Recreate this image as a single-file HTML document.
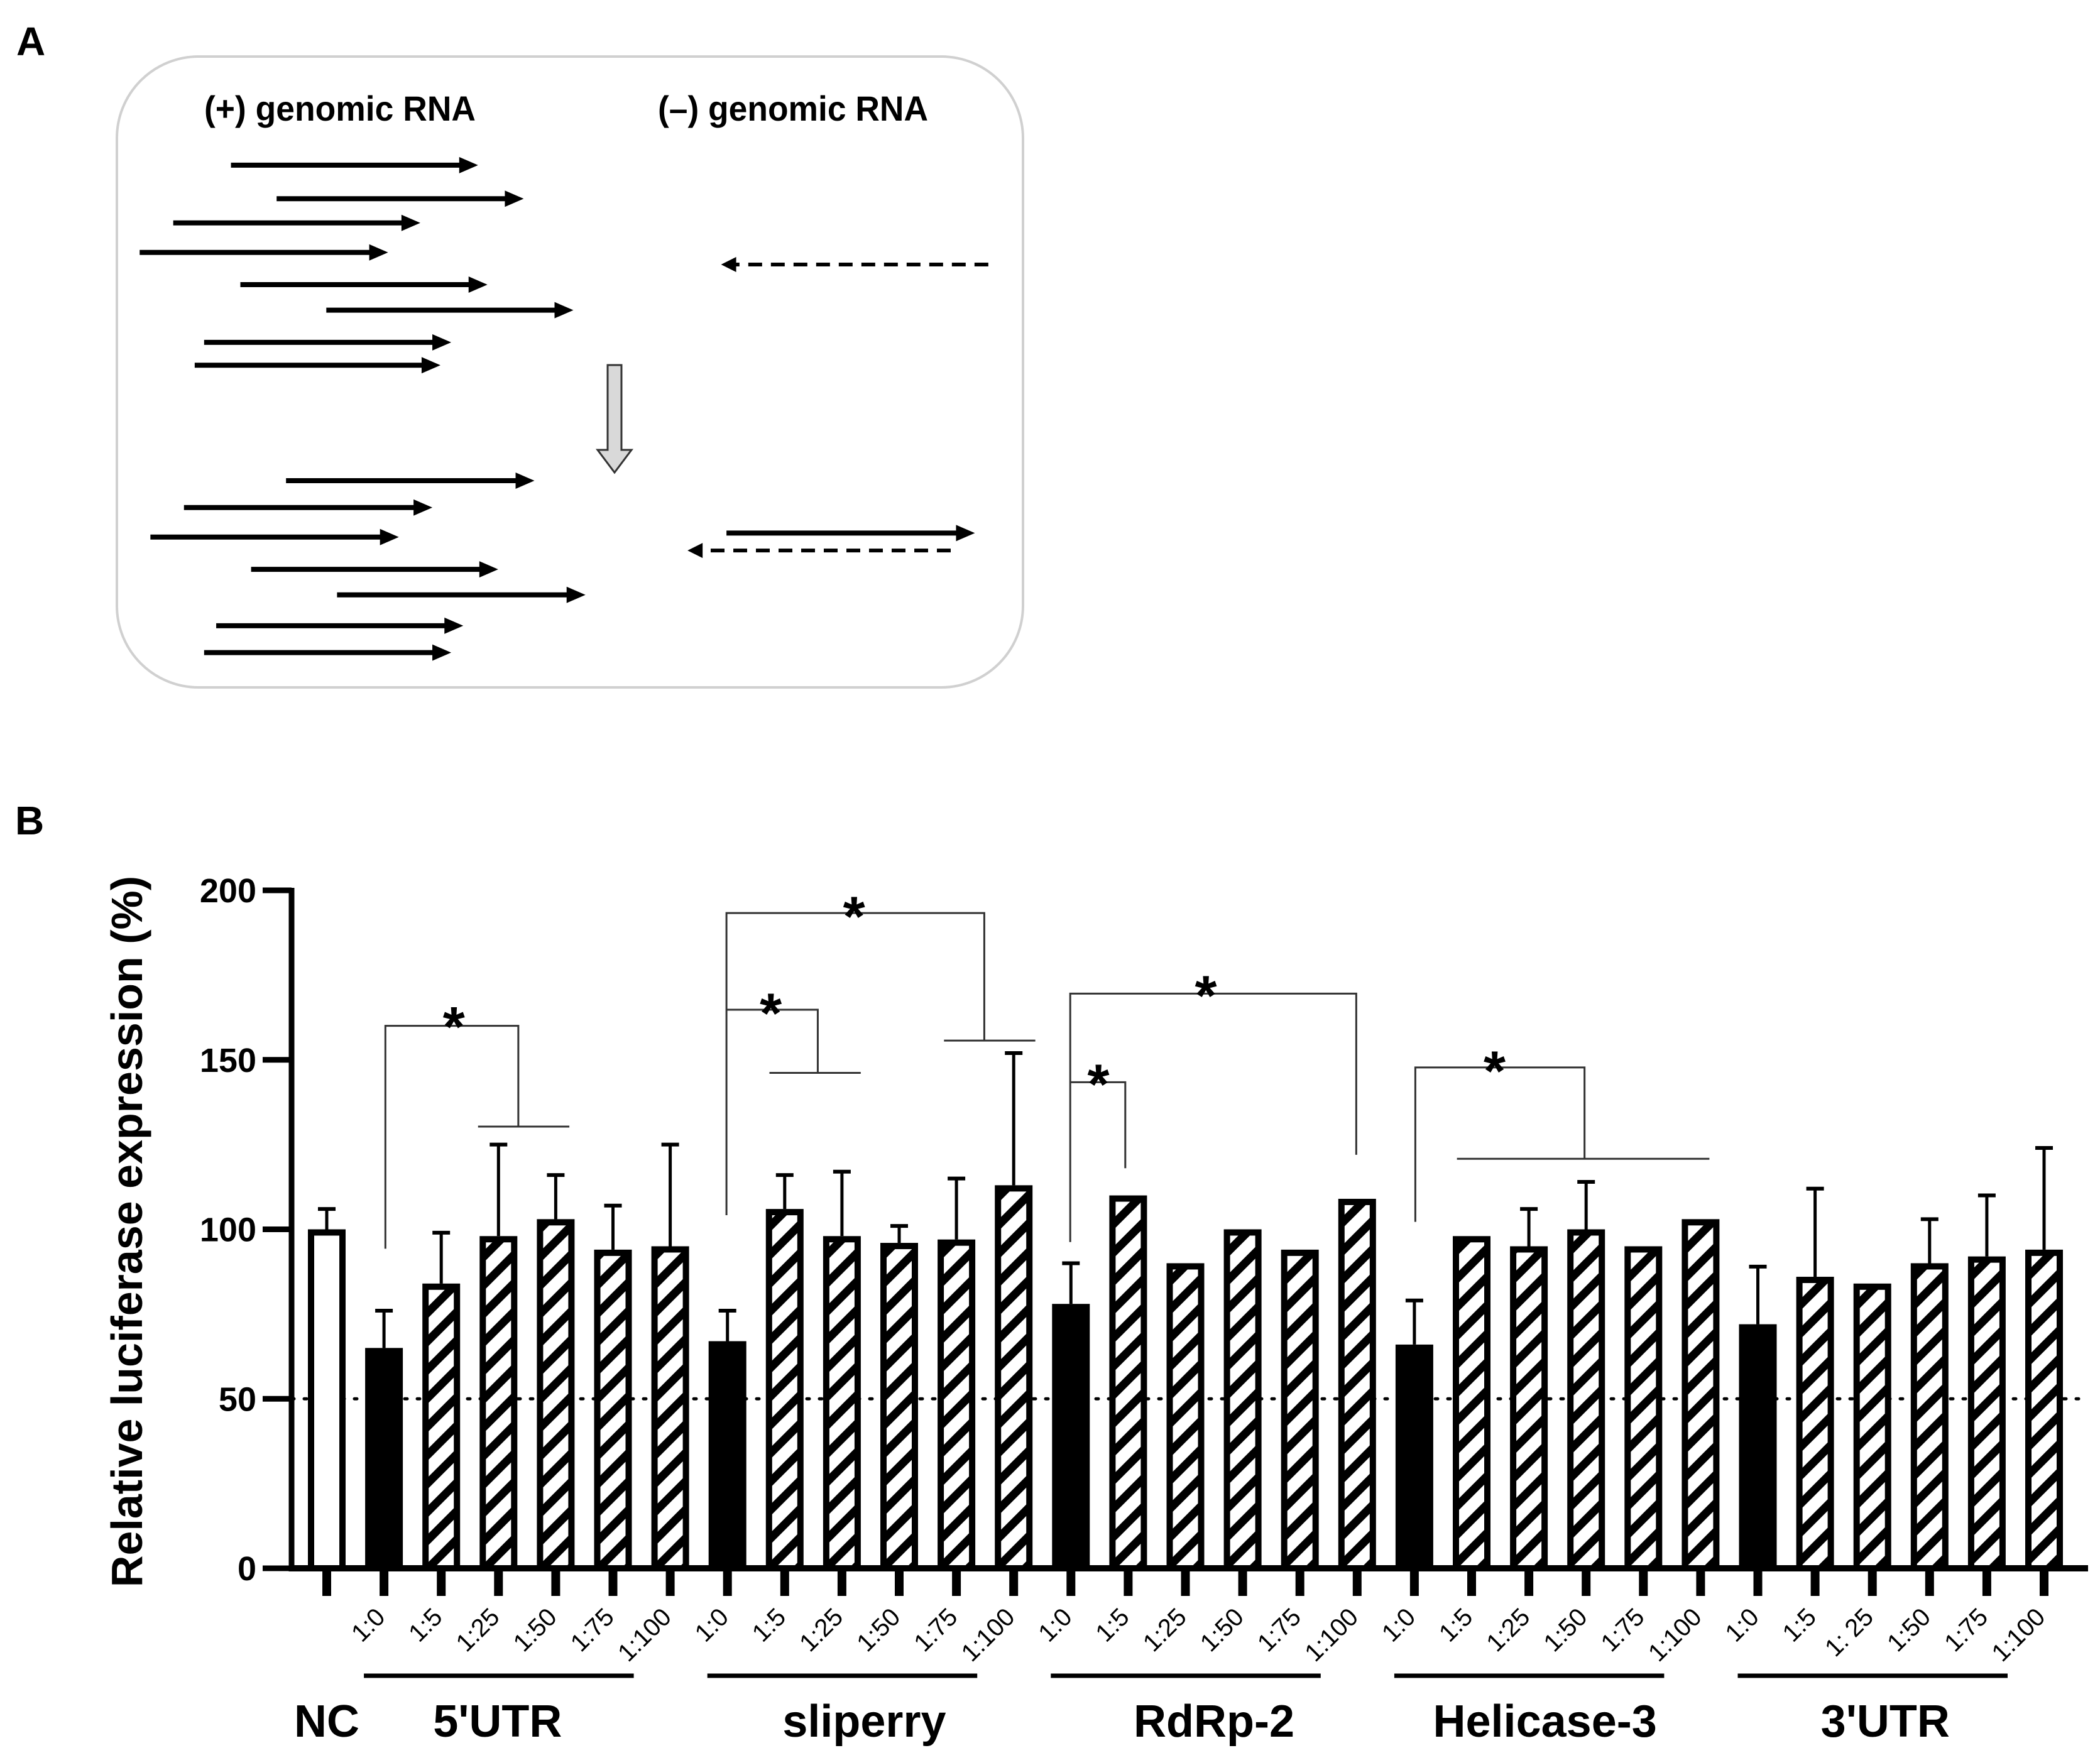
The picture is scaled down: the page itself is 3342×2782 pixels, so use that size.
<!DOCTYPE html>
<html><head><meta charset="utf-8"><style>
html,body{margin:0;padding:0;background:#fff;}
svg{display:block;font-family:"Liberation Sans",Arial,sans-serif;}
</style></head><body>
<svg id="fig" width="3342" height="2782" viewBox="0 0 3342 2782" xmlns="http://www.w3.org/2000/svg">
<defs>
<pattern id="hatch" patternUnits="userSpaceOnUse" width="32" height="32" patternTransform="rotate(45)">
<rect width="32" height="32" fill="#fff"/>
<rect x="0" y="0" width="13" height="32" fill="#000"/>
</pattern>
</defs>
<text x="26" y="88" font-size="64" font-weight="bold">A</text>
<rect x="186" y="90" width="1442" height="1004" rx="130" fill="#fff" stroke="#d0d0d0" stroke-width="4"/>
<text x="325" y="192" font-size="56" font-weight="bold" textLength="432" lengthAdjust="spacingAndGlyphs">(+) genomic RNA</text>
<text x="1047" y="192" font-size="56" font-weight="bold" textLength="430" lengthAdjust="spacingAndGlyphs">(–) genomic RNA</text>
<g id="panelA"></g>
<polygon points="967,581 989,581 989,716 1005,716 978,752 951,716 967,716" fill="#d9d9d9" stroke="#333" stroke-width="3"/>

<text x="24" y="1328" font-size="64" font-weight="bold">B</text>
<g id="chart"></g>
</svg>
<script>
// ---- chart data ----
const groups = ["NC","5'UTR","sliperry","RdRp-2","Helicase-3","3'UTR"];
const ratioLabels = ["1:0","1:5","1:25","1:50","1:75","1:100"];
const ratioLabels3UTR = ["1:0","1:5","1: 25","1:50","1:75","1:100"];
const ncValue = [100];
const ncError = [106];
const utr5Values = [65,84,98,103,94,95];
const utr5Errors = [76,99,125,116,107,125];
const sliperryValues = [67,106,98,96,97,113];
const sliperryErrors = [76,116,117,101,115,152];
const rdrpValues = [78,110,90,100,94,109];
const rdrpErrors = [90,null,null,null,null,null];
const helicaseValues = [66,98,95,100,95,103];
const helicaseErrors = [79,null,106,114,null,null];
const utr3Values = [72,86,84,90,92,94];
const utr3Errors = [89,112,null,103,110,124];
const yTicks = [0,50,100,150,200];

const NS="http://www.w3.org/2000/svg";
function mk(tag,attrs,parent){const e=document.createElementNS(NS,tag);for(const k in attrs)e.setAttribute(k,attrs[k]);parent.appendChild(e);return e;}

const S=2.137;
const pa=document.getElementById('panelA');
const solidArrows=[[172,356,123],[206,390,148],[129,313,166],[104,289,188],[179,363,212],[243,427,231],[152,336,255],[145,328,272],
[213,398,358],[137,322,378],[112,297,400],[187,371,424],[251,436,443],[161,345,466],[152,336,486],[541,726,397]];
solidArrows.forEach(a=>{
  const x1=a[0]*S,x2=a[1]*S,y=a[2]*S;
  const l=mk('line',{x1:x1,y1:y,x2:x2-26,y2:y,stroke:'#000','stroke-width':8},pa);
  
  
  const h=mk('polygon',{points:`${x2},${y} ${x2-30},${y-13} ${x2-30},${y+13}`,fill:'#000'},pa);
  
  
});
const dashArrows=[[736,537,197],[708,512,410]];
dashArrows.forEach(a=>{
  const x1=a[0]*S,x2=a[1]*S,y=a[2]*S;
  const l=mk('line',{x1:x1,y1:y,x2:x2+22,y2:y,stroke:'#000','stroke-width':6,'stroke-dasharray':'22 14'},pa);
  
  
  const h=mk('polygon',{points:`${x2},${y} ${x2+24},${y-12} ${x2+24},${y+12}`,fill:'#000'},pa);
  
  
});

const g=document.getElementById('chart');
const axX=464, y0=2496, y200=1417, xEnd=3323;
const firstX=520, step=91.1, barW=60;
function yS(v){return y0-(v/200)*(y0-y200);}
function xS(i){return firstX+i*step;}

const dl=mk('line',{x1:axX,y1:yS(50),x2:xEnd,y2:yS(50),stroke:'#000','stroke-width':5,'stroke-dasharray':'4 16','stroke-linecap':'round'},g);



const labelShift=[0,-47,-10,0,-20,-25];
const series=[[ncValue,ncError],[utr5Values,utr5Errors],[sliperryValues,sliperryErrors],[rdrpValues,rdrpErrors],[helicaseValues,helicaseErrors],[utr3Values,utr3Errors]];
let idx=0;
series.forEach((s,gi)=>{
  s[0].forEach((v,j)=>{
    const cx=xS(idx);
    const top=yS(v);
    const err=s[1][j];
    if(err!=null){
      const el=mk('line',{x1:cx,y1:top,x2:cx,y2:yS(err),stroke:'#000','stroke-width':5},g);
      
      
      const ec=mk('line',{x1:cx-14,y1:yS(err),x2:cx+14,y2:yS(err),stroke:'#000','stroke-width':6},g);
      
      
    }
    let fill = gi===0 ? '#fff' : (j===0 ? '#000' : 'url(#hatch)');
    const r=mk('rect',{x:cx-barW/2+5,y:top+5,width:barW-10,height:y0-top-5,fill:fill,stroke:'#000','stroke-width':10},g);
    
    
    const t=mk('line',{x1:cx,y1:y0,x2:cx,y2:y0+44,stroke:'#000','stroke-width':14},g);
    
    
    if(gi>0){
      const lab = gi===5 ? ratioLabels3UTR[j] : ratioLabels[j];
      const ax=cx+4, ay=y0+80;
      const tx=mk('text',{x:ax,y:ay,'font-size':40,'text-anchor':'end',transform:`rotate(-45 ${ax} ${ay})`},g);
      tx.textContent=lab;
      
      
    }
    idx++;
  });
  if(gi===0){
    const tx=mk('text',{x:xS(0),y:2764,'font-size':72,'font-weight':'bold','text-anchor':'middle'},g);
    tx.textContent=groups[0];
    
    
  } else {
    const a=xS(idx-6), b=xS(idx-1);
    const ul=mk('line',{x1:a-32,y1:2667,x2:b-58,y2:2667,stroke:'#000','stroke-width':7},g);
    
    
    const tx=mk('text',{x:(a+b)/2+labelShift[gi],y:2764,'font-size':72,'font-weight':'bold','text-anchor':'middle'},g);
    tx.textContent=groups[gi];
    
    
  }
});

const ya=mk('line',{x1:axX,y1:y200-4,x2:axX,y2:y0+5,stroke:'#000','stroke-width':9},g);


const xa=mk('line',{x1:axX,y1:y0,x2:xEnd,y2:y0,stroke:'#000','stroke-width':10},g);


yTicks.forEach(v=>{
  const t=mk('line',{x1:axX-46,y1:yS(v),x2:axX,y2:yS(v),stroke:'#000','stroke-width':9},g);
  
  
  const tx=mk('text',{x:axX-56,y:yS(v)+19,'font-size':54,'font-weight':'bold','text-anchor':'end'},g);
  tx.textContent=v;
  
  
});
const yt=mk('text',{x:226,y:1960,'font-size':70,'font-weight':'bold','text-anchor':'middle',transform:'rotate(-90 226 1960)'},g);
yt.textContent='Relative luciferase expression (%)';



const brackets=[
 {pts:[[287,930],[287,764],[386,764],[386,839]], bar:[356,424,839], star:[338,765]},
 {pts:[[541,905],[541,680],[733,680],[733,775]], bar:[703,771,775], star:[636,683]},
 {pts:[[541,752],[609,752],[609,799]], bar:[573,641,799], star:[574,755]},
 {pts:[[797,925],[797,740],[1010,740],[1010,860]], bar:null, star:[898,742]},
 {pts:[[797,806],[838,806],[838,870]], bar:null, star:[818,808]},
 {pts:[[1054,910],[1054,795],[1180,795],[1180,863]], bar:[1085,1273,863], star:[1113,798]}
];
brackets.forEach(b=>{
  const p=mk('polyline',{points:b.pts.map(q=>(q[0]*S)+','+(q[1]*S)).join(' '),fill:'none',stroke:'#333','stroke-width':3},g);
  
  
  if(b.bar){
    const l=mk('line',{x1:b.bar[0]*S,y1:b.bar[2]*S,x2:b.bar[1]*S,y2:b.bar[2]*S,stroke:'#333','stroke-width':3},g);
    
    
  }
  const st=mk('text',{x:b.star[0]*S,y:b.star[1]*S+30,'font-size':90,'font-weight':'bold','text-anchor':'middle'},g);
  st.textContent='*';
  
  
});
</script>
</body></html>
